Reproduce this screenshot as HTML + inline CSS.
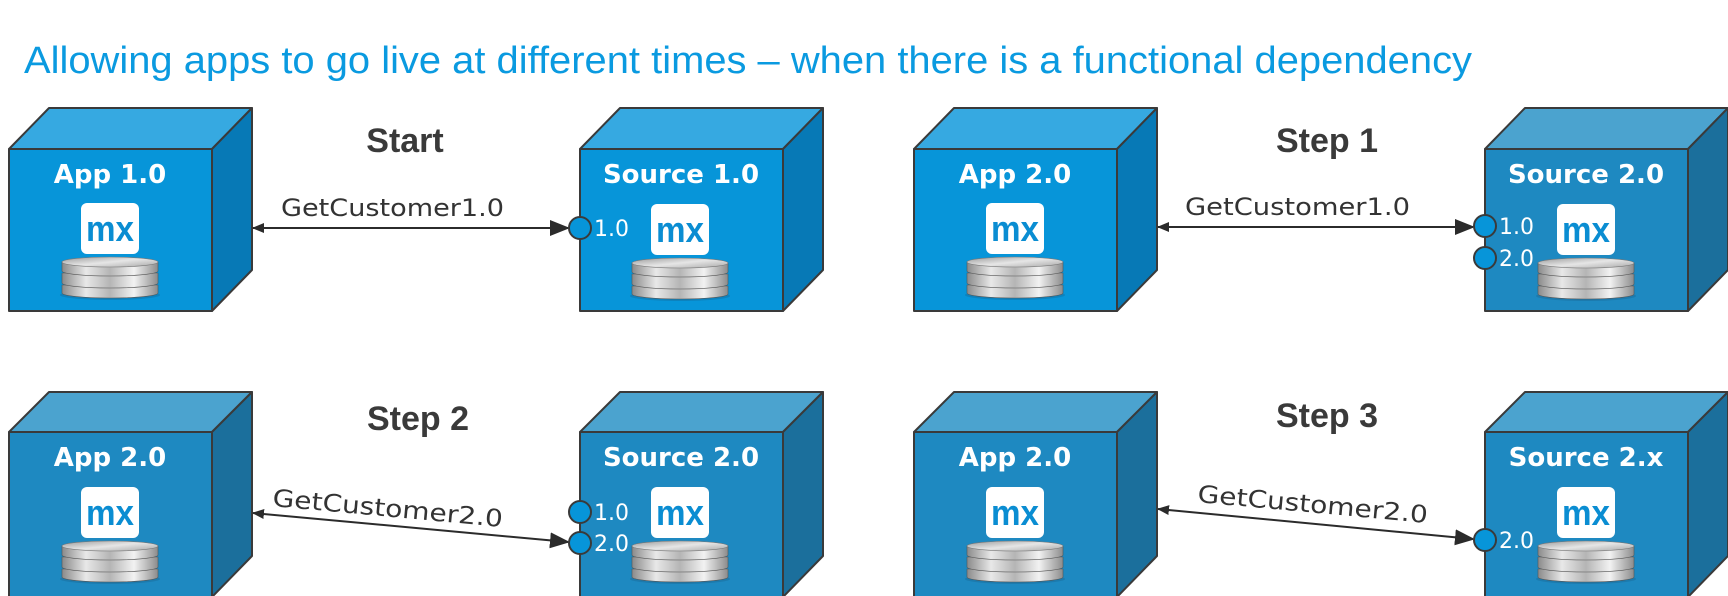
<!DOCTYPE html>
<html><head><meta charset="utf-8"><style>
html,body{margin:0;padding:0;background:#fff;width:1728px;height:596px;overflow:hidden}
svg{display:block}
.t{font-family:"DejaVu Sans","Liberation Sans",sans-serif;font-weight:bold;fill:#fff;font-size:26px}
.step{font-family:"Liberation Sans",sans-serif;font-weight:bold;fill:#3a3a3a;font-size:34px}
.lbl{font-family:"DejaVu Sans","Liberation Sans",sans-serif;fill:#333;font-size:24px}
.port{font-family:"DejaVu Sans",sans-serif;fill:#fff;font-size:22px}
.mx{font-family:"Liberation Sans",sans-serif;font-weight:bold;fill:#0a8dd2;font-size:36px}
</style></head><body>
<svg width="1728" height="596" viewBox="0 0 1728 596" xmlns="http://www.w3.org/2000/svg">
<defs>
<linearGradient id="dg" x1="0" x2="1" y1="0" y2="0">
<stop offset="0" stop-color="#8a8a8a"/><stop offset="0.25" stop-color="#e8e8e8"/><stop offset="0.5" stop-color="#b5b5b5"/><stop offset="0.75" stop-color="#f2f2f2"/><stop offset="1" stop-color="#8c8c8c"/></linearGradient>
<linearGradient id="dt" x1="0" x2="1" y1="0" y2="1">
<stop offset="0" stop-color="#9a9a9a"/><stop offset="0.5" stop-color="#e6e6e6"/><stop offset="1" stop-color="#a8a8a8"/></linearGradient>
<marker id="ah" markerWidth="20" markerHeight="16" refX="18" refY="8" orient="auto" markerUnits="userSpaceOnUse"><path d="M0,0 L20,8 L0,16 Z" fill="#2b2b2b"/></marker>
<marker id="al" markerWidth="12" markerHeight="10" refX="1" refY="5" orient="auto" markerUnits="userSpaceOnUse"><path d="M12,0 L0,5 L12,10 Z" fill="#2b2b2b"/></marker>
<g id="stack">
<ellipse cx="0" cy="38" rx="50" ry="5" fill="#1a5f8a" opacity="0.35"/>
<path d="M-48,28 v8 a48,5 0 0 0 96,0 v-8 Z" fill="url(#dg)" stroke="#555" stroke-width="0.6"/>
<path d="M-48,16 v10 a48,5 0 0 0 96,0 v-10 Z" fill="url(#dg)" stroke="#555" stroke-width="0.6"/>
<path d="M-48,5 v9 a48,5 0 0 0 96,0 v-9 Z" fill="url(#dg)" stroke="#555" stroke-width="0.6"/>
<ellipse cx="0" cy="5" rx="48" ry="5" fill="url(#dt)" stroke="#777" stroke-width="0.6"/>
</g>
<g id="icon">
<rect x="-29" y="0" width="58" height="51" rx="6" fill="#fff"/>
<text x="0" y="38" text-anchor="middle" class="mx" textLength="48" lengthAdjust="spacingAndGlyphs">mx</text>
</g>
</defs>

<text x="24" y="73" font-family="Liberation Sans,sans-serif" font-size="38" fill="#0a9ae0" textLength="1448" lengthAdjust="spacingAndGlyphs">Allowing apps to go live at different times – when there is a functional dependency</text>

<g stroke="#3a3a3a" stroke-width="2" stroke-linejoin="round">
<polygon points="9,149 49,108 252,108 212,149" fill="#36a9e1"/>
<polygon points="212,149 252,108 252,270 212,311" fill="#0779b6"/>
<rect x="9" y="149" width="203" height="162" fill="#0795d9"/>
<polygon points="580,149 620,108 823,108 783,149" fill="#36a9e1"/>
<polygon points="783,149 823,108 823,270 783,311" fill="#0779b6"/>
<rect x="580" y="149" width="203" height="162" fill="#0795d9"/>
<polygon points="914,149 954,108 1157,108 1117,149" fill="#36a9e1"/>
<polygon points="1117,149 1157,108 1157,270 1117,311" fill="#0779b6"/>
<rect x="914" y="149" width="203" height="162" fill="#0795d9"/>
<polygon points="1485,149 1525,108 1728,108 1688,149" fill="#4ba3cf"/>
<polygon points="1688,149 1728,108 1728,270 1688,311" fill="#1b6f9c"/>
<rect x="1485" y="149" width="203" height="162" fill="#1e89c1"/>
<polygon points="9,432 49,392 252,392 212,432" fill="#4ba3cf"/>
<polygon points="212,432 252,392 252,556 212,597" fill="#1b6f9c"/>
<rect x="9" y="432" width="203" height="166" fill="#1e89c1"/>
<polygon points="580,432 620,392 823,392 783,432" fill="#4ba3cf"/>
<polygon points="783,432 823,392 823,556 783,597" fill="#1b6f9c"/>
<rect x="580" y="432" width="203" height="166" fill="#1e89c1"/>
<polygon points="914,432 954,392 1157,392 1117,432" fill="#4ba3cf"/>
<polygon points="1117,432 1157,392 1157,556 1117,597" fill="#1b6f9c"/>
<rect x="914" y="432" width="203" height="166" fill="#1e89c1"/>
<polygon points="1485,432 1525,392 1728,392 1688,432" fill="#4ba3cf"/>
<polygon points="1688,432 1728,392 1728,556 1688,597" fill="#1b6f9c"/>
<rect x="1485" y="432" width="203" height="166" fill="#1e89c1"/>
</g>

<text class="t" x="110" y="183" text-anchor="middle">App 1.0</text>
<text class="t" x="681" y="183" text-anchor="middle">Source 1.0</text>
<text class="t" x="1015" y="183" text-anchor="middle">App 2.0</text>
<text class="t" x="1586" y="183" text-anchor="middle">Source 2.0</text>
<text class="t" x="110" y="466" text-anchor="middle">App 2.0</text>
<text class="t" x="681" y="466" text-anchor="middle">Source 2.0</text>
<text class="t" x="1015" y="466" text-anchor="middle">App 2.0</text>
<text class="t" x="1586" y="466" text-anchor="middle">Source 2.x</text>

<use href="#icon" x="110" y="203"/><use href="#stack" x="110" y="257"/>
<use href="#icon" x="680" y="204"/><use href="#stack" x="680" y="258"/>
<use href="#icon" x="1015" y="203"/><use href="#stack" x="1015" y="257"/>
<use href="#icon" x="1586" y="204"/><use href="#stack" x="1586" y="258"/>
<use href="#icon" x="110" y="487"/><use href="#stack" x="110" y="541"/>
<use href="#icon" x="680" y="487"/><use href="#stack" x="680" y="541"/>
<use href="#icon" x="1015" y="487"/><use href="#stack" x="1015" y="541"/>
<use href="#icon" x="1586" y="487"/><use href="#stack" x="1586" y="541"/>

<text class="step" x="405" y="152" text-anchor="middle">Start</text>
<text class="step" x="1327" y="152" text-anchor="middle">Step 1</text>
<text class="step" x="418" y="430" text-anchor="middle">Step 2</text>
<text class="step" x="1327" y="427" text-anchor="middle">Step 3</text>

<g stroke="#2b2b2b" stroke-width="2" fill="none">
<line x1="253" y1="228" x2="568" y2="228" marker-start="url(#al)" marker-end="url(#ah)"/>
<line x1="1158" y1="227" x2="1473" y2="227" marker-start="url(#al)" marker-end="url(#ah)"/>
<line x1="253" y1="513" x2="568" y2="542" marker-start="url(#al)" marker-end="url(#ah)"/>
<line x1="1158" y1="509" x2="1473" y2="539" marker-start="url(#al)" marker-end="url(#ah)"/>
</g>
<text class="lbl" x="281" y="216" textLength="223" lengthAdjust="spacingAndGlyphs">GetCustomer1.0</text>
<text class="lbl" x="1185" y="215" textLength="225" lengthAdjust="spacingAndGlyphs">GetCustomer1.0</text>
<text class="lbl" x="272" y="506" textLength="231" lengthAdjust="spacingAndGlyphs" transform="rotate(5.2 272 506)">GetCustomer2.0</text>
<text class="lbl" x="1197" y="502" textLength="231" lengthAdjust="spacingAndGlyphs" transform="rotate(5.2 1197 502)">GetCustomer2.0</text>

<g fill="#0795d9" stroke="#3a3a3a" stroke-width="2">
<circle cx="580" cy="228" r="11"/>
<circle cx="1485" cy="226" r="11"/>
<circle cx="1485" cy="258" r="11"/>
<circle cx="580" cy="512" r="11"/>
<circle cx="580" cy="543" r="11"/>
<circle cx="1485" cy="540" r="11"/>
</g>
<text class="port" x="594" y="236">1.0</text>
<text class="port" x="1499" y="234">1.0</text>
<text class="port" x="1499" y="266">2.0</text>
<text class="port" x="594" y="520">1.0</text>
<text class="port" x="594" y="551">2.0</text>
<text class="port" x="1499" y="548">2.0</text>
</svg>
</body></html>
